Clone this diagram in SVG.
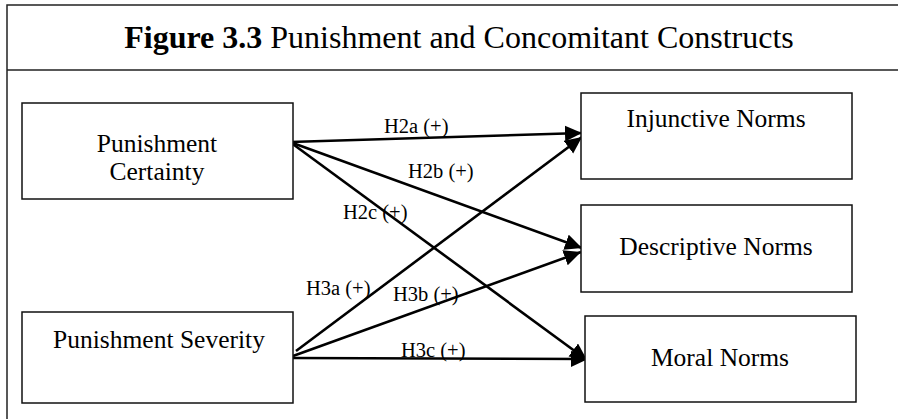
<svg xmlns="http://www.w3.org/2000/svg" width="898" height="419" viewBox="0 0 898 419">
  <style>
    .frame { fill: none; stroke: #222; stroke-width: 1.5; }
    .box { fill: #fff; stroke: #111; stroke-width: 1.5; }
    .node-text { font-family: "Liberation Serif", "Times New Roman", serif; font-size: 25.5px; fill: #000; text-anchor: middle; }
    .title { font-family: "Liberation Serif", "Times New Roman", serif; font-size: 32px; fill: #000; text-anchor: middle; }
    .edge { stroke: #000; stroke-width: 2.6; fill: none; marker-end: url(#arrow); }
    .edge-label { font-family: "Liberation Serif", "Times New Roman", serif; font-size: 20.5px; fill: #000; }
  </style>
  <defs>
    <marker id="arrow" markerUnits="userSpaceOnUse" markerWidth="20" markerHeight="18" refX="17" refY="8" orient="auto">
      <path d="M0,0 L17,8 L0,16 z" fill="#000"/>
    </marker>
  </defs>

  <rect width="898" height="419" fill="#fff"/>

  <!-- outer frame: top rule, title rule, left side -->
  <g id="frame">
    <path class="frame" d="M898,5 H7 V419 M7,70 H898"/>
    <text class="title" x="459" y="48"><tspan font-weight="bold">Figure 3.3</tspan> Punishment and Concomitant Constructs</text>
  </g>

  <!-- connectors -->
  <g id="connectors">
    <line class="edge" x1="290" y1="142" x2="582" y2="133"/>
    <line class="edge" x1="290" y1="142" x2="582" y2="248"/>
    <line class="edge" x1="290" y1="142" x2="587" y2="360"/>
    <line class="edge" x1="296" y1="351" x2="582" y2="137"/>
    <line class="edge" x1="293" y1="356" x2="581" y2="252"/>
    <line class="edge" x1="293" y1="358" x2="588" y2="359"/>
    <text class="edge-label" x="384" y="133">H2a (+)</text>
    <text class="edge-label" x="408" y="178">H2b (+)</text>
    <text class="edge-label" x="343" y="219">H2c (+)</text>
    <text class="edge-label" x="306" y="295">H3a (+)</text>
    <text class="edge-label" x="393" y="301">H3b (+)</text>
    <text class="edge-label" x="401" y="357">H3c (+)</text>
  </g>

  <g id="punishment-certainty">
    <rect class="box" x="22" y="103" width="271" height="96"/>
    <text class="node-text" x="157" y="152">Punishment</text>
    <text class="node-text" x="157" y="180">Certainty</text>
  </g>

  <g id="punishment-severity">
    <rect class="box" x="22" y="312" width="271" height="91"/>
    <text class="node-text" x="159" y="348">Punishment Severity</text>
  </g>

  <g id="injunctive-norms">
    <rect class="box" x="581" y="93" width="271" height="86"/>
    <text class="node-text" x="716" y="127">Injunctive Norms</text>
  </g>

  <g id="descriptive-norms">
    <rect class="box" x="581" y="205" width="271" height="87"/>
    <text class="node-text" x="716" y="255">Descriptive Norms</text>
  </g>

  <g id="moral-norms">
    <rect class="box" x="585" y="316" width="271" height="86"/>
    <text class="node-text" x="720" y="366">Moral Norms</text>
  </g>
</svg>
